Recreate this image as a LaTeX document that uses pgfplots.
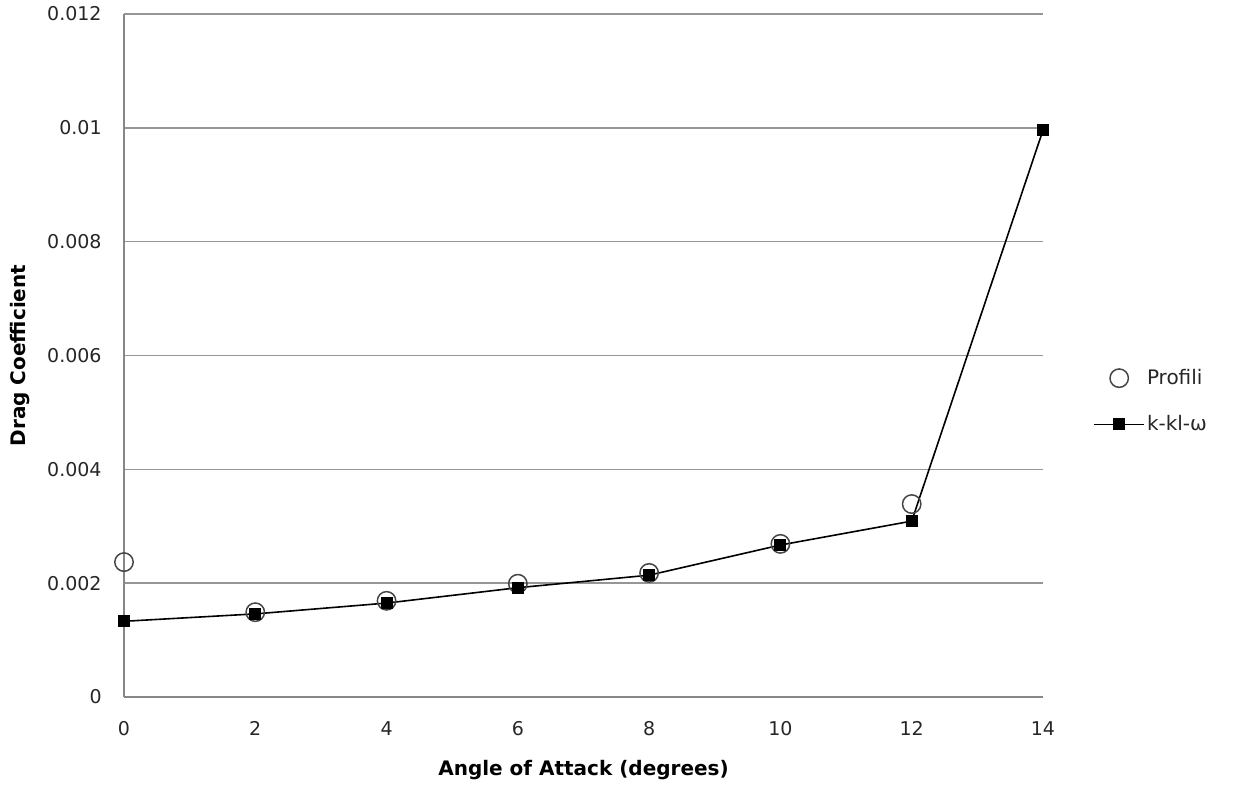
\documentclass[border=0pt]{standalone}
\usepackage{fontspec}
\setmainfont{DejaVu Sans}
\usepackage{pgfplots}
\pgfplotsset{compat=1.18}

\definecolor{gridgray}{RGB}{150,150,150}
\definecolor{axisgray}{RGB}{135,135,135}
\definecolor{ringgray}{RGB}{70,70,70}

\begin{document}
\begin{tikzpicture}
\useasboundingbox (-62pt,-46.5pt) rectangle (554.5pt,348.5pt);
\begin{axis}[
  scale only axis,
  width=459.5pt, height=341.5pt,
  at={(0,0)}, anchor=south west,
  xmin=0, xmax=14, ymin=0, ymax=0.012,
  axis lines*=left,
  axis line style={axisgray, line width=0.9pt},
  xtick={0,2,...,14},
  ytick={0,0.002,0.004,0.006,0.008,0.01,0.012},
  scaled y ticks=false,
  xticklabels={0,2,4,6,8,10,12,14},
  yticklabels={0,0.002,0.004,0.006,0.008,0.01,0.012},
  major tick length=0pt,
  ymajorgrids,
  grid style={gridgray, line width=0.8pt},
  tick label style={font=\fontsize{9.5}{11}\selectfont, text=black!85, inner sep=0pt},
  yticklabel style={xshift=-11pt},
  xticklabel style={yshift=-12pt},
  xlabel={Angle of Attack (degrees)},
  ylabel={Drag Coefficient},
  label style={font=\bfseries\fontsize{10}{12}\selectfont},
  xlabel style={at={(axis description cs:0.5,-0.1069)}, anchor=center},
  ylabel style={at={(axis description cs:-0.1132,0.5)}, anchor=center},
  clip=false,
  legend image code/.code={%
    \draw[mark repeat=2, mark phase=2, #1]
      plot coordinates {(0pt,0pt) (12.5pt,0pt) (25pt,0pt)};},
  legend style={draw=none, fill=none, inner sep=0pt,
    at={(axis description cs:1,0.433)}, anchor=west, xshift=25pt,
    font=\fontsize{10}{12}\selectfont, row sep=12pt,
    nodes={inner sep=1pt, text=black!85}},
  legend cell align=left,
]
% Profili reference values
\addplot[only marks, mark=o, mark size=4.6pt, mark options={draw=ringgray, line width=0.75pt}]
  coordinates {(0,0.00237) (2,0.00149) (4,0.00169) (6,0.00199) (8,0.00218) (10,0.00269) (12,0.00339)};
\addlegendentry{Profili}
% k-kl-omega transition model
\addplot[black, line width=0.8pt, mark=square*, mark size=2.6pt, mark options={solid, fill=black}]
  coordinates {(0,0.00133) (2,0.00146) (4,0.00165) (6,0.00192) (8,0.00214) (10,0.00267) (12,0.00309) (14,0.00996)};
\addlegendentry{k-kl-ω}
\end{axis}
\end{tikzpicture}
\end{document}
